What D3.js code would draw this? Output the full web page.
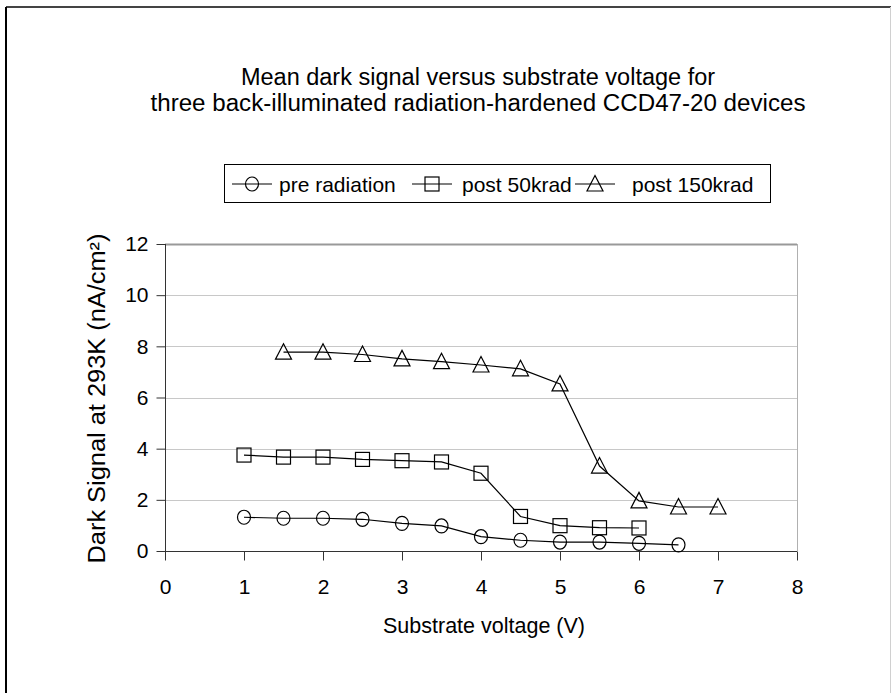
<!DOCTYPE html>
<html>
<head>
<meta charset="utf-8">
<script src="https://cdn.jsdelivr.net/npm/d3@7"></script>
<style>
  body { margin: 0; background: #fff; }
  text { font-family: "Liberation Sans", Arial, sans-serif; fill: #000; }
</style>
</head>
<body>
<div class="chart"></div>
<script>
// data
var voltsPre = [1, 1.5, 2, 2.5, 3, 3.5, 4, 4.5, 5, 5.5, 6, 6.5];
var darkPre = [1.32, 1.28, 1.28, 1.24, 1.08, 0.98, 0.56, 0.42, 0.35, 0.35, 0.30, 0.24];
var volts50 = [1, 1.5, 2, 2.5, 3, 3.5, 4, 4.5, 5, 5.5, 6];
var dark50 = [3.75, 3.67, 3.67, 3.58, 3.53, 3.48, 3.04, 1.35, 0.99, 0.91, 0.90];
var volts150 = [1.5, 2, 2.5, 3, 3.5, 4, 4.5, 5, 5.5, 6, 6.5, 7];
var dark150 = [7.77, 7.77, 7.68, 7.51, 7.40, 7.27, 7.12, 6.53, 3.32, 1.96, 1.72, 1.72];
var seriesNames = ["pre radiation", "post 50krad", "post 150krad"];
var xTicks = [0, 1, 2, 3, 4, 5, 6, 7, 8];
var yTicks = [0, 2, 4, 6, 8, 10, 12];

var W = 891, H = 693;
var margin = {top: 244, right: 94, bottom: 142, left: 165};

var svg = d3.select(".chart").append("svg")
    .attr("width", W)
    .attr("height", H);

// outer frame
svg.append("rect").attr("x", 0).attr("y", 0).attr("width", W).attr("height", H).attr("fill", "#fff");
svg.append("line").attr("x1", 6).attr("x2", 891).attr("y1", 7).attr("y2", 7)
    .attr("stroke", "#444").attr("stroke-width", 2);
svg.append("line").attr("x1", 6).attr("x2", 6).attr("y1", 7).attr("y2", H)
    .attr("stroke", "#000").attr("stroke-width", 2);
svg.append("line").attr("x1", 890.5).attr("x2", 890.5).attr("y1", 7).attr("y2", H)
    .attr("stroke", "#d0d0d0").attr("stroke-width", 1);

var x = d3.scaleLinear().domain([0, 8]).range([margin.left, W - margin.right]);
var y = d3.scaleLinear().domain([0, 12]).range([H - margin.bottom, margin.top]);

// title
var title = svg.append("text")
    .attr("text-anchor", "middle")
    .style("font-size", "23.5px");
title.append("tspan").attr("x", 478).attr("y", 85)
    .text("Mean dark signal versus substrate voltage for");
title.append("tspan").attr("x", 478).attr("y", 111)
    .attr("textLength", 655).attr("lengthAdjust", "spacingAndGlyphs")
    .text("three back-illuminated radiation-hardened CCD47-20 devices");

// gridlines
svg.append("g").selectAll("line")
    .data(yTicks.filter(function(d) { return d > 0; }))
    .enter().append("line")
    .attr("x1", x(0)).attr("x2", x(8))
    .attr("y1", function(d) { return Math.round(y(d)) + 0.5; })
    .attr("y2", function(d) { return Math.round(y(d)) + 0.5; })
    .attr("stroke", function(d) { return d == 12 ? "#999" : "#c8c8c8"; })
    .attr("stroke-width", function(d) { return d == 12 ? 2 : 1; });

// right border of plot area
svg.append("line")
    .attr("x1", x(8) + 0.5).attr("x2", x(8) + 0.5)
    .attr("y1", y(12)).attr("y2", y(0))
    .attr("stroke", "#b0b0b0");

// axes
var xAxis = d3.axisBottom(x).tickValues(xTicks).tickSize(9).tickPadding(19).tickFormat(d3.format("d"));
var yAxis = d3.axisLeft(y).tickValues(yTicks).tickSize(9).tickPadding(8).tickFormat(d3.format("d"));

var gx = svg.append("g")
    .attr("transform", "translate(0," + (Math.round(y(0)) + 0.5) + ")")
    .call(xAxis);
var gy = svg.append("g")
    .attr("transform", "translate(" + (Math.round(x(0)) + 0.5) + ",0)")
    .call(yAxis);

[gx, gy].forEach(function(g) {
  g.select(".domain").attr("stroke", "#333");
  g.selectAll(".tick line").attr("stroke", "#333");
  g.selectAll(".tick text")
    .style("font-size", "21px")
    .style("font-family", "'Liberation Sans', Arial, sans-serif")
    .attr("fill", "#000");
});
gy.select(".domain").attr("d", "M0," + y(12) + "V" + y(0));
gx.select(".domain").attr("d", "M" + x(0) + ",0H" + x(8));

// axis titles
svg.append("text")
    .attr("x", 484).attr("y", 633)
    .attr("text-anchor", "middle")
    .style("font-size", "21.5px")
    .text("Substrate voltage (V)");

svg.append("text")
    .attr("transform", "translate(105," + (y(6) + 1) + ") rotate(-90)")
    .attr("text-anchor", "middle")
    .style("font-size", "23px")
    .attr("textLength", 330).attr("lengthAdjust", "spacingAndGlyphs")
    .text("Dark Signal at 293K (nA/cm²)");

// markers
function drawMarker(g, kind, cx, cy) {
  if (kind == 0) {
    g.append("ellipse").attr("cx", cx).attr("cy", cy).attr("rx", 6.5).attr("ry", 7)
      .attr("fill", "none").attr("stroke", "#000").attr("stroke-width", 1.2);
  } else if (kind == 1) {
    g.append("rect").attr("x", cx - 7).attr("y", cy - 7).attr("width", 14).attr("height", 14)
      .attr("fill", "none").attr("stroke", "#000").attr("stroke-width", 1.2);
  } else {
    g.append("path")
      .attr("d", "M" + cx + "," + (cy - 8.5) + "L" + (cx + 8) + "," + (cy + 7) + "L" + (cx - 8) + "," + (cy + 7) + "Z")
      .attr("fill", "none").attr("stroke", "#000").attr("stroke-width", 1.2);
  }
}

var line = d3.line()
    .x(function(d) { return x(d[0]); })
    .y(function(d) { return y(d[1]); });

var allSeries = [
  d3.zip(voltsPre, darkPre),
  d3.zip(volts50, dark50),
  d3.zip(volts150, dark150)
];

allSeries.forEach(function(pts, k) {
  var g = svg.append("g").attr("class", "series");
  g.append("path")
    .attr("d", line(pts))
    .attr("fill", "none")
    .attr("stroke", "#000")
    .attr("stroke-width", 1.2);
  pts.forEach(function(p) { drawMarker(g, k, x(p[0]), y(p[1])); });
});

// legend
var legend = svg.append("g");
legend.append("rect")
    .attr("x", 224.5).attr("y", 164.5).attr("width", 546).attr("height", 38)
    .attr("fill", "#fff").attr("stroke", "#000");

var legX = [232, 412, 575];
var legTextX = [279, 462, 632];
seriesNames.forEach(function(name, k) {
  legend.append("line")
    .attr("x1", legX[k]).attr("x2", legX[k] + 40)
    .attr("y1", 184).attr("y2", 184)
    .attr("stroke", "#000").attr("stroke-width", 1.2);
  drawMarker(legend, k, legX[k] + 20, 184);
  legend.append("text")
    .attr("x", legTextX[k]).attr("y", 192)
    .style("font-size", "21px")
    .text(name);
});
</script>
</body>
</html>
